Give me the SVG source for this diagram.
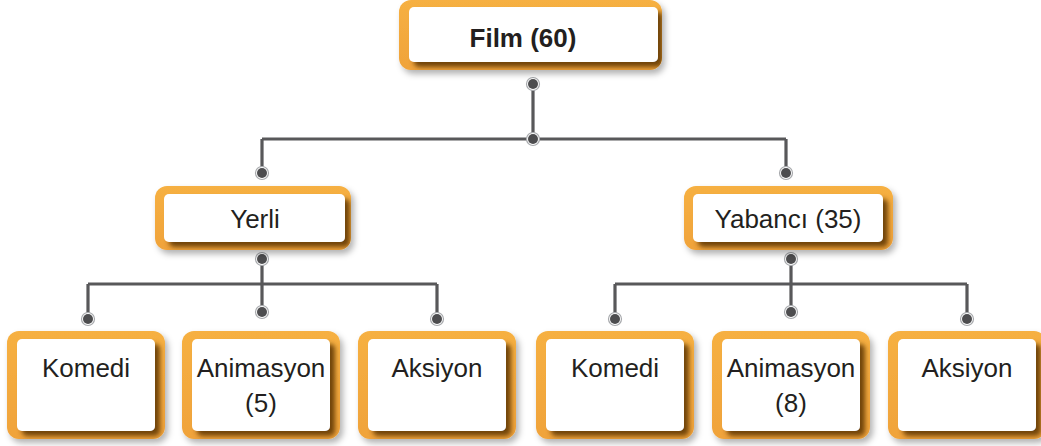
<svg xmlns="http://www.w3.org/2000/svg" xmlns:xlink="http://www.w3.org/1999/xlink" width="1041" height="446" viewBox="0 0 1041 446">
<style>
.outer{fill:url(#og);filter:url(#sh)}
.inner{fill:#fff;filter:url(#ish)}
.t{font-family:"Liberation Sans",Arial,sans-serif;font-size:26px;fill:#231f20;text-anchor:middle}
.b{font-weight:bold}
.ln{stroke:#58585a;stroke-width:3.2;fill:none}
.dr{fill:#fff;stroke:#a7a9ac;stroke-width:1.2}
.dc{fill:#4d4d4f}
</style>
<defs>
<linearGradient id="og" x1="0" y1="0" x2="0" y2="1">
<stop offset="0" stop-color="#f6b042"/>
<stop offset="1" stop-color="#f0a33a"/>
</linearGradient>
<filter id="sh" x="-10%" y="-10%" width="130%" height="140%">
<feDropShadow dx="3" dy="4" stdDeviation="3" flood-color="#000" flood-opacity="0.3"/>
</filter>
<filter id="ish" x="-10%" y="-10%" width="130%" height="140%">
<feDropShadow dx="5" dy="5" stdDeviation="2.5" flood-color="#5a3300" flood-opacity="0.85"/>
</filter>
<clipPath id="c0"><rect x="399" y="0" width="263" height="70" rx="12"/></clipPath>
<clipPath id="c1"><rect x="155" y="186" width="196" height="64" rx="12"/></clipPath>
<clipPath id="c2"><rect x="684" y="186" width="209" height="64" rx="12"/></clipPath>
<clipPath id="c3"><rect x="7" y="331" width="158" height="108" rx="12"/></clipPath>
<clipPath id="c4"><rect x="182" y="331" width="158" height="108" rx="12"/></clipPath>
<clipPath id="c5"><rect x="358" y="331" width="158" height="108" rx="12"/></clipPath>
<clipPath id="c6"><rect x="536" y="331" width="158" height="108" rx="12"/></clipPath>
<clipPath id="c7"><rect x="712" y="331" width="158" height="108" rx="12"/></clipPath>
<clipPath id="c8"><rect x="888" y="331" width="158" height="108" rx="12"/></clipPath>
</defs>
<rect width="1041" height="446" fill="#fff"/>

<g id="connectors">
<path class="ln" d="M533,84V139 M262,139H786 M262,139V173 M786,139V173"/>
<path class="ln" d="M262,259V312 M88,284H437 M88,284V319 M437,284V319"/>
<path class="ln" d="M791,259V312 M615,284H967 M615,284V319 M967,284V319"/>
<g>
<circle class="dr" cx="533" cy="84" r="6.5"/><circle class="dc" cx="533" cy="84" r="5"/>
<circle class="dr" cx="533" cy="139" r="6.5"/><circle class="dc" cx="533" cy="139" r="5"/>
<circle class="dr" cx="262" cy="173" r="6.5"/><circle class="dc" cx="262" cy="173" r="5"/>
<circle class="dr" cx="786" cy="173" r="6.5"/><circle class="dc" cx="786" cy="173" r="5"/>
<circle class="dr" cx="262" cy="259" r="6.5"/><circle class="dc" cx="262" cy="259" r="5"/>
<circle class="dr" cx="262" cy="312" r="6.5"/><circle class="dc" cx="262" cy="312" r="5"/>
<circle class="dr" cx="88" cy="319" r="6.5"/><circle class="dc" cx="88" cy="319" r="5"/>
<circle class="dr" cx="437" cy="319" r="6.5"/><circle class="dc" cx="437" cy="319" r="5"/>
<circle class="dr" cx="791" cy="259" r="6.5"/><circle class="dc" cx="791" cy="259" r="5"/>
<circle class="dr" cx="791" cy="312" r="6.5"/><circle class="dc" cx="791" cy="312" r="5"/>
<circle class="dr" cx="615" cy="319" r="6.5"/><circle class="dc" cx="615" cy="319" r="5"/>
<circle class="dr" cx="967" cy="319" r="6.5"/><circle class="dc" cx="967" cy="319" r="5"/>
</g>
</g>

<g id="film">
<rect class="outer" x="399" y="0" width="263" height="70" rx="12"/>
<g clip-path="url(#c0)"><rect class="inner" x="409" y="7" width="249" height="55" rx="5"/></g>
<text class="t b" x="523" y="47">Film (60)</text>
</g>

<g id="yerli">
<rect class="outer" x="155" y="186" width="196" height="64" rx="12"/>
<g clip-path="url(#c1)"><rect class="inner" x="164" y="194" width="181" height="48" rx="5"/></g>
<text class="t" x="255" y="228">Yerli</text>
</g>

<g id="yabanci">
<rect class="outer" x="684" y="186" width="209" height="64" rx="12"/>
<g clip-path="url(#c2)"><rect class="inner" x="693" y="194" width="190" height="48" rx="5"/></g>
<text class="t" x="788" y="228">Yabancı (35)</text>
</g>

<g id="yerli-komedi">
<rect class="outer" x="7" y="331" width="158" height="108" rx="12"/>
<g clip-path="url(#c3)"><rect class="inner" x="17" y="339" width="138" height="92" rx="5"/></g>
<text class="t" x="86" y="377">Komedi</text>
</g>

<g id="yerli-animasyon">
<rect class="outer" x="182" y="331" width="158" height="108" rx="12"/>
<g clip-path="url(#c4)"><rect class="inner" x="192" y="339" width="138" height="92" rx="5"/></g>
<text class="t" x="261" y="377">Animasyon</text>
<text class="t" x="261" y="412">(5)</text>
</g>

<g id="yerli-aksiyon">
<rect class="outer" x="358" y="331" width="158" height="108" rx="12"/>
<g clip-path="url(#c5)"><rect class="inner" x="368" y="339" width="138" height="92" rx="5"/></g>
<text class="t" x="437" y="377">Aksiyon</text>
</g>

<g id="yabanci-komedi">
<rect class="outer" x="536" y="331" width="158" height="108" rx="12"/>
<g clip-path="url(#c6)"><rect class="inner" x="546" y="339" width="138" height="92" rx="5"/></g>
<text class="t" x="615" y="377">Komedi</text>
</g>

<g id="yabanci-animasyon">
<rect class="outer" x="712" y="331" width="158" height="108" rx="12"/>
<g clip-path="url(#c7)"><rect class="inner" x="722" y="339" width="138" height="92" rx="5"/></g>
<text class="t" x="791" y="377">Animasyon</text>
<text class="t" x="791" y="412">(8)</text>
</g>

<g id="yabanci-aksiyon">
<rect class="outer" x="888" y="331" width="158" height="108" rx="12"/>
<g clip-path="url(#c8)"><rect class="inner" x="898" y="339" width="138" height="92" rx="5"/></g>
<text class="t" x="967" y="377">Aksiyon</text>
</g>
</svg>
